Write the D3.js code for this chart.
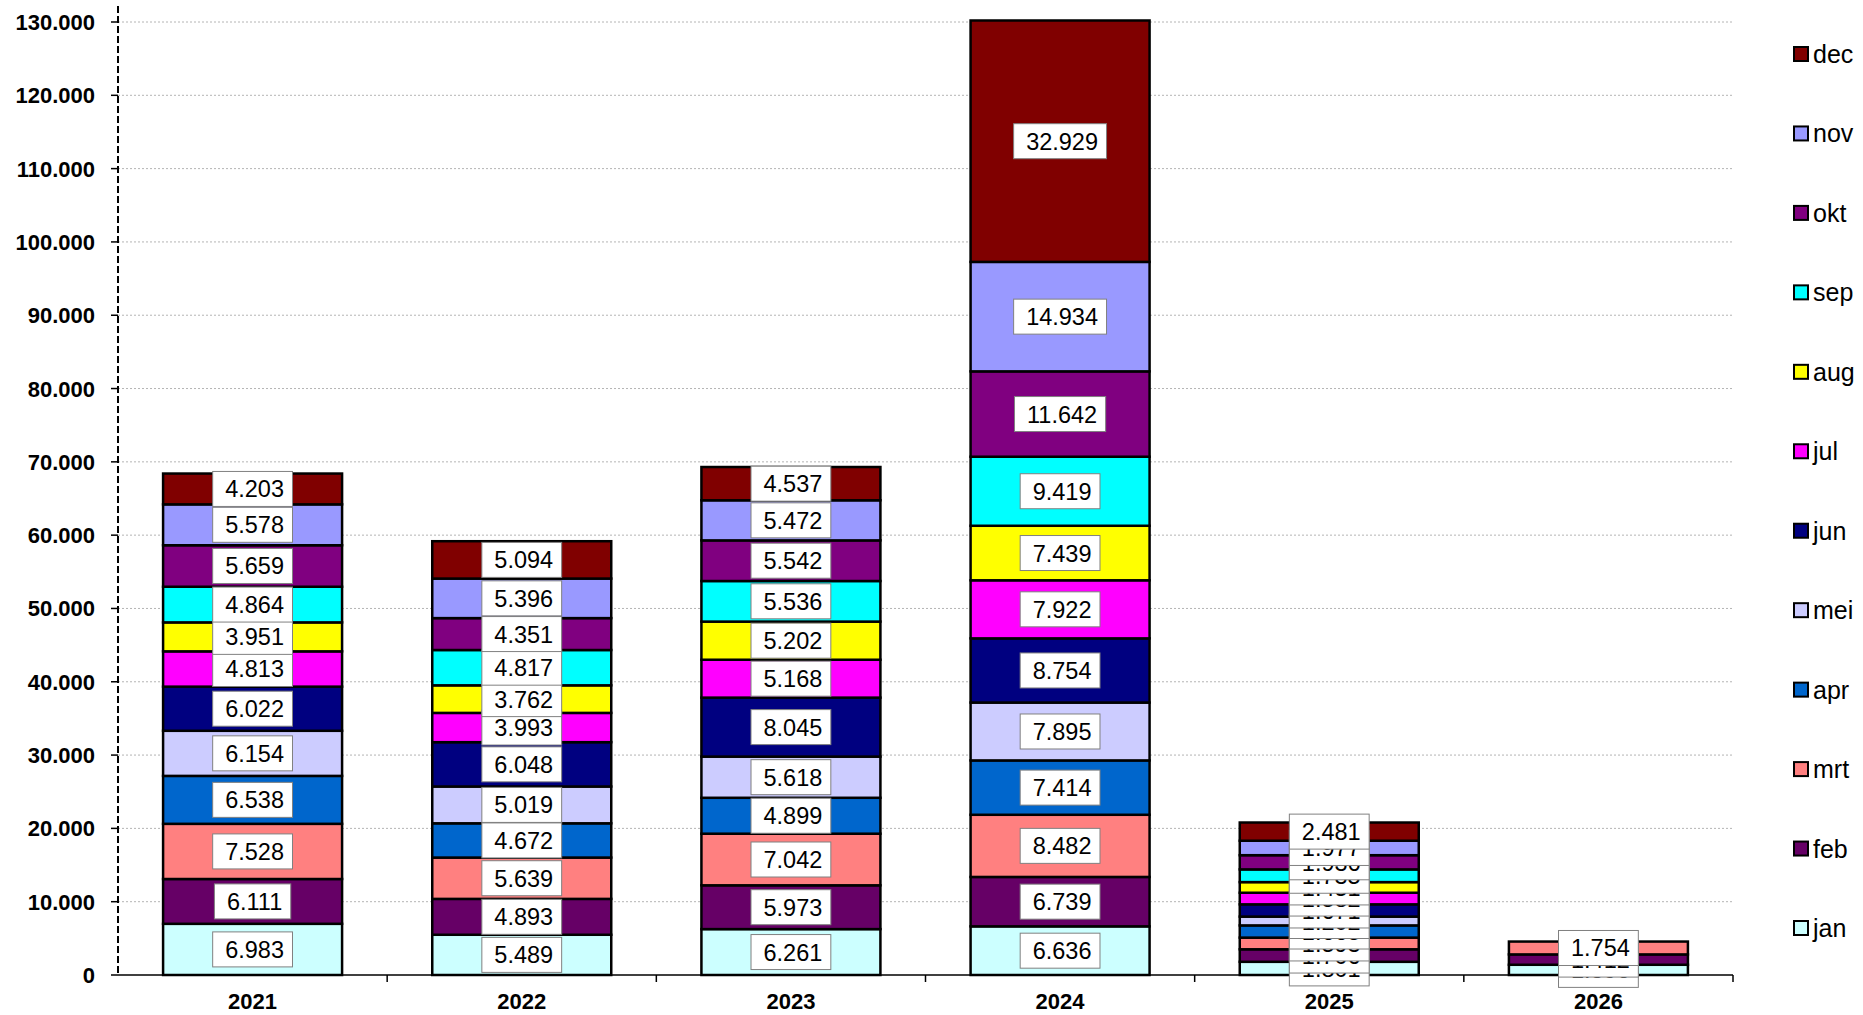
<!DOCTYPE html>
<html>
<head>
<meta charset="utf-8">
<script src="https://cdn.jsdelivr.net/npm/d3@7"></script>
<style>
  html, body { margin: 0; padding: 0; background: #ffffff; }
  svg { display: block; font-family: "Liberation Sans", Arial, sans-serif; }
</style>
</head>
<body>
<svg id="chart" width="1863" height="1015"></svg>
<script>
// ---- data ----
const years = ["2021", "2022", "2023", "2024", "2025", "2026"];
const months = ["jan", "feb", "mrt", "apr", "mei", "jun", "jul", "aug", "sep", "okt", "nov", "dec"];
const monthColors = ["#CCFFFF", "#660066", "#FF8080", "#0066CC", "#CCCCFF", "#000080",
                     "#FF00FF", "#FFFF00", "#00FFFF", "#800080", "#9999FF", "#800000"];
const v2021 = [6983, 6111, 7528, 6538, 6154, 6022, 4813, 3951, 4864, 5659, 5578, 4203];
const v2022 = [5489, 4893, 5639, 4672, 5019, 6048, 3993, 3762, 4817, 4351, 5396, 5094];
const v2023 = [6261, 5973, 7042, 4899, 5618, 8045, 5168, 5202, 5536, 5542, 5472, 4537];
const v2024 = [6636, 6739, 8482, 7414, 7895, 8754, 7922, 7439, 9419, 11642, 14934, 32929];
const v2025 = [1801, 1706, 1593, 1665, 1202, 1671, 1582, 1451, 1735, 1936, 1977, 2481];
const v2026 = [1396, 1412, 1754, null, null, null, null, null, null, null, null, null];
const yTicks = [0, 10000, 20000, 30000, 40000, 50000, 60000, 70000, 80000, 90000, 100000, 110000, 120000, 130000];

const seriesByYear = [v2021, v2022, v2023, v2024, v2025, v2026];

// ---- layout ----
const svg = d3.select("#chart");
const plot = { left: 118, right: 1733, top: 22, bottom: 975 };

const x = d3.scaleBand().domain(years).range([plot.left, plot.right]).padding(0);
const y = d3.scaleLinear().domain([0, 130000]).range([plot.bottom, plot.top]);
const color = d3.scaleOrdinal().domain(months).range(monthColors);
const nl = d3.formatLocale({ decimal: ",", thousands: ".", grouping: [3], currency: ["", ""] });
const fmt = nl.format(",d");

// build stacked rows
const rows = years.map((yr, i) => {
  const o = { year: yr };
  months.forEach((m, j) => { o[m] = seriesByYear[i][j] == null ? 0 : seriesByYear[i][j]; });
  return o;
});
const stack = d3.stack().keys(months)(rows);

// gridlines
svg.append("g")
  .selectAll("line")
  .data(yTicks.filter(t => t > 0))
  .join("line")
  .attr("x1", plot.left).attr("x2", plot.right)
  .attr("y1", d => y(d)).attr("y2", d => y(d))
  .attr("stroke", "#b4b4b4").attr("stroke-width", 1)
  .attr("stroke-dasharray", "2,2");

// bars
const barFrac = 0.665;
const bw = x.bandwidth() * barFrac;
const barX = yr => x(yr) + (x.bandwidth() - bw) / 2;

const layers = svg.append("g");
stack.forEach((layer, j) => {
  layers.append("g")
    .selectAll("rect")
    .data(layer.filter((d, i) => seriesByYear[i][j] != null))
    .join("rect")
    .attr("x", d => barX(d.data.year))
    .attr("width", bw)
    .attr("y", d => y(d[1]))
    .attr("height", d => y(d[0]) - y(d[1]))
    .attr("fill", monthColors[j])
    .attr("stroke", "#000")
    .attr("stroke-width", 2.5);
});

// x axis
const xAxisG = svg.append("g");
xAxisG.append("line")
  .attr("x1", plot.left).attr("x2", plot.right)
  .attr("y1", plot.bottom).attr("y2", plot.bottom)
  .attr("stroke", "#000").attr("stroke-width", 1.5);
const boundaries = years.map(yr => x(yr)).concat([x(years[years.length - 1]) + x.bandwidth()]);
xAxisG.selectAll("line.tick")
  .data(boundaries.slice(1))
  .join("line")
  .attr("class", "tick")
  .attr("x1", d => d).attr("x2", d => d)
  .attr("y1", plot.bottom).attr("y2", plot.bottom + 7)
  .attr("stroke", "#000").attr("stroke-width", 1.5);
xAxisG.selectAll("text")
  .data(years)
  .join("text")
  .attr("x", d => x(d) + x.bandwidth() / 2)
  .attr("y", 1009)
  .attr("text-anchor", "middle")
  .attr("font-size", 22)
  .attr("font-weight", "bold")
  .attr("fill", "#000")
  .text(d => d);

// y axis (dashed)
const yAxisG = svg.append("g");
yAxisG.append("line")
  .attr("x1", plot.left).attr("x2", plot.left)
  .attr("y1", 6).attr("y2", plot.bottom)
  .attr("stroke", "#000").attr("stroke-width", 2)
  .attr("stroke-dasharray", "7,3");
yAxisG.selectAll("line.tick")
  .data(yTicks)
  .join("line")
  .attr("class", "tick")
  .attr("x1", plot.left - 7).attr("x2", plot.left)
  .attr("y1", d => y(d)).attr("y2", d => y(d))
  .attr("stroke", "#000").attr("stroke-width", 1.5);
yAxisG.selectAll("text")
  .data(yTicks)
  .join("text")
  .attr("x", 95)
  .attr("y", d => y(d) + 8)
  .attr("text-anchor", "end")
  .attr("font-size", 22)
  .attr("font-weight", "bold")
  .attr("fill", "#000")
  .text(d => fmt(d));

// data labels
const labelG = svg.append("g");
stack.forEach((layer, j) => {
  layer.forEach((d, i) => {
    if (seriesByYear[i][j] == null) return;
    const cx = x(d.data.year) + x.bandwidth() / 2;
    const cy = (y(d[0]) + y(d[1])) / 2;
    const g = labelG.append("g");
    const rect = g.append("rect");
    const t = g.append("text")
      .attr("x", cx + 2)
      .attr("y", cy + 8.5)
      .attr("text-anchor", "middle")
      .attr("font-size", 23.5)
      .attr("fill", "#000")
      .text(fmt(seriesByYear[i][j]));
    const w = t.node().getComputedTextLength() + 21;
    rect.attr("x", cx - w / 2).attr("y", cy - 17.5)
      .attr("width", w).attr("height", 35)
      .attr("fill", "#fff").attr("stroke", "#808080").attr("stroke-width", 1);
  });
});

// legend
const legendY = d3.scaleLinear().domain([months.length - 1, 0]).range([54, 928]);
const legend = svg.append("g");
months.forEach((m, j) => {
  const cy = legendY(j);
  legend.append("rect")
    .attr("x", 1794).attr("y", cy - 7)
    .attr("width", 14).attr("height", 14)
    .attr("fill", color(m)).attr("stroke", "#000").attr("stroke-width", 2);
  legend.append("text")
    .attr("x", 1813).attr("y", cy + 9)
    .attr("font-size", 25)
    .attr("fill", "#000")
    .text(m);
});
</script>
</body>
</html>
